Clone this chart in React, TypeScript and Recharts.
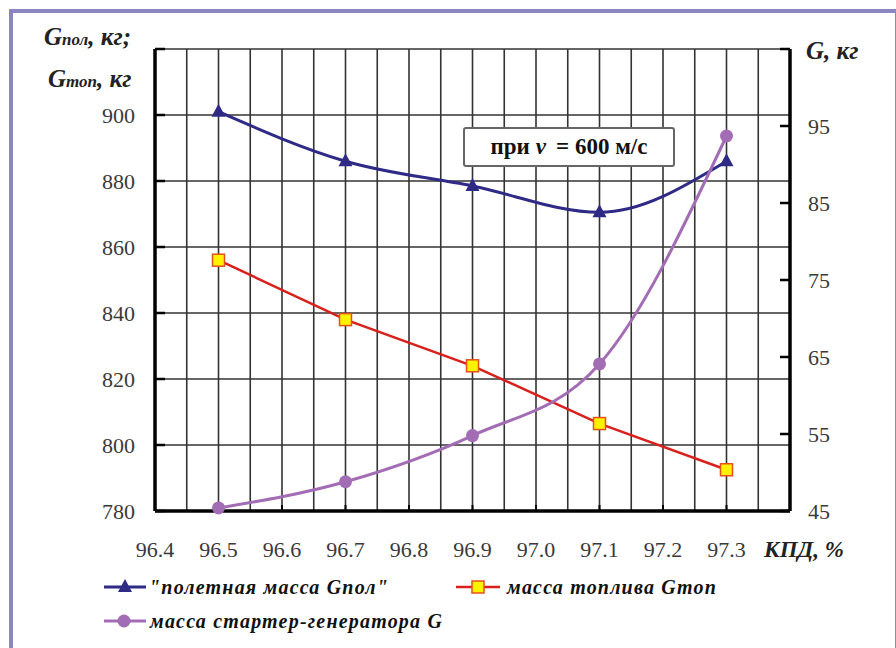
import React from 'react'
import { CartesianGrid, Line, LineChart, XAxis, YAxis } from 'recharts'

// КПД, %
const kpd = [96.5, 96.7, 96.9, 97.1, 97.3]
// "полетная масса Gпол", кг
const gPol = [901, 886, 878.5, 870.5, 886]
// масса топлива Gтоп, кг
const gTop = [856, 838, 824, 806.5, 792.5]
// масса стартер-генератора G, кг
const gSg = [45.4, 48.8, 54.8, 64.1, 93.7]

const xTicks = [96.4, 96.5, 96.6, 96.7, 96.8, 96.9, 97.0, 97.1, 97.2, 97.3, 97.4]
const xGrid = [
  96.4, 96.45, 96.5, 96.55, 96.6, 96.65, 96.7, 96.75, 96.8, 96.85, 96.9,
  96.95, 97.0, 97.05, 97.1, 97.15, 97.2, 97.25, 97.3, 97.35, 97.4,
]
const leftTicks = [780, 800, 820, 840, 860, 880, 900, 920]
const rightTicks = [45, 55, 65, 75, 85, 95, 105]

const data = kpd.map((k, i) => ({ kpd: k, gPol: gPol[i], gTop: gTop[i], gSg: gSg[i] }))

const serif = "'Liberation Serif', 'DejaVu Serif', serif"
const navy = '#2f2a86'
const red = '#d8201c'
const violet = '#a36db5'

const Triangle = (props: any) => {
  const { cx, cy } = props
  if (cx == null || cy == null) return null
  return <polygon key={props.key} points={`${cx},${cy - 8} ${cx - 7},${cy + 5} ${cx + 7},${cy + 5}`} fill={navy} />
}

const Square = (props: any) => {
  const { cx, cy } = props
  if (cx == null || cy == null) return null
  return <rect key={props.key} x={cx - 6} y={cy - 6} width={12} height={12} fill="#fff200" stroke="#e5501a" strokeWidth={1.5} />
}

const Circle = (props: any) => {
  const { cx, cy } = props
  if (cx == null || cy == null) return null
  return <circle key={props.key} cx={cx} cy={cy} r={6.5} fill={violet} />
}

const XTick = (props: any) => {
  const { x, y, payload } = props
  if (payload.value > 97.35) {
    return (
      <text x={x + 14} y={y} dy="0.71em" textAnchor="middle" style={{ fontFamily: serif }} fontSize={23}
        fontStyle="italic" fontWeight="bold" fill="#222">КПД, %</text>
    )
  }
  return (
    <text x={x} y={y} dy="0.71em" textAnchor="middle" style={{ fontFamily: serif }} fontSize={22} fill="#3a3a3a">
      {payload.value.toFixed(1)}
    </text>
  )
}

const tickStyle = { fill: '#3a3a3a', fontSize: 22, style: { fontFamily: serif } }

const titleStyle: React.CSSProperties = {
  position: 'absolute', fontFamily: serif, fontStyle: 'italic', fontWeight: 'bold',
  fontSize: 25, color: '#222', whiteSpace: 'nowrap', lineHeight: 1,
}
const legendText: React.CSSProperties = {
  position: 'absolute', fontFamily: serif, fontStyle: 'italic', fontWeight: 'bold',
  fontSize: 20, letterSpacing: 1.2, color: '#111', whiteSpace: 'nowrap', lineHeight: 1,
}

export default function App() {
  return (
    <div style={{ position: 'absolute', left: 0, top: 0, width: 896, height: 648, background: '#fff', fontFamily: serif }}>
      <div style={{ position: 'absolute', left: 9, top: 9, width: 882, height: 660, border: '4px solid #8b85c1' }} />
      <LineChart width={896} height={648} data={data} margin={{ top: 49, right: 46, left: 95, bottom: 97 }}
        style={{ fontFamily: serif }}>
        <CartesianGrid yAxisId="left" stroke="#333" strokeWidth={1.6}
          verticalValues={xGrid} horizontalValues={leftTicks} />
        <XAxis dataKey="kpd" type="number" domain={[96.4, 97.4]} ticks={xTicks} height={40}
          axisLine={{ stroke: '#000', strokeWidth: 3.5 }} tickLine={{ stroke: '#000', strokeWidth: 2 }}
          tickSize={-6} tickMargin={36} tick={<XTick />} interval={0} />
        <YAxis yAxisId="left" domain={[780, 920]} ticks={leftTicks} width={60} interval={0}
          tickFormatter={(v: number) => (v === 920 ? '' : String(v))}
          axisLine={{ stroke: '#000', strokeWidth: 3.5 }} tickLine={{ stroke: '#000', strokeWidth: 2.5 }}
          tickSize={-10} tickMargin={30} tick={tickStyle} />
        <YAxis yAxisId="right" orientation="right" domain={[45, 105]} ticks={rightTicks} width={60} interval={0}
          tickFormatter={(v: number) => (v === 105 ? '' : String(v))}
          axisLine={{ stroke: '#000', strokeWidth: 3.5 }} tickLine={{ stroke: '#000', strokeWidth: 2.5 }}
          tickSize={-10} tickMargin={28} tick={tickStyle} />
        <Line yAxisId="left" type="monotone" dataKey="gPol" stroke={navy} strokeWidth={3}
          dot={<Triangle />} activeDot={false} isAnimationActive={false} />
        <Line yAxisId="left" type="linear" dataKey="gTop" stroke={red} strokeWidth={2.5}
          dot={<Square />} activeDot={false} isAnimationActive={false} />
        <Line yAxisId="right" type="monotone" dataKey="gSg" stroke={violet} strokeWidth={3}
          dot={<Circle />} activeDot={false} isAnimationActive={false} />
      </LineChart>

      <div style={{ ...titleStyle, left: 44, top: 24 }}>
        G<span style={{ fontSize: 17 }}>пол</span>, кг;
      </div>
      <div style={{ ...titleStyle, left: 48, top: 66 }}>
        G<span style={{ fontSize: 17 }}>топ</span>, кг
      </div>
      <div style={{ ...titleStyle, left: 806, top: 38 }}>G, кг</div>

      <div style={{
        position: 'absolute', left: 463, top: 127, width: 208, height: 36, background: '#fff',
        border: '2px solid #666', borderRadius: 3, display: 'flex', alignItems: 'center',
        justifyContent: 'center', fontFamily: serif, fontWeight: 'bold', fontSize: 23, color: '#111',
      }}>
        при <i style={{ margin: '0 10px 0 6px' }}>v</i> = 600 м/с
      </div>

      <svg style={{ position: 'absolute', left: 0, top: 0 }} width={896} height={648}>
        <line x1={104} y1={587} x2={146} y2={587} stroke={navy} strokeWidth={3} />
        <polygon points="125,579 118,592 132,592" fill={navy} />
        <line x1={456} y1={587} x2={500} y2={587} stroke={red} strokeWidth={2.5} />
        <rect x={472} y={581} width={12} height={12} fill="#fff200" stroke="#e5501a" strokeWidth={1.5} />
        <line x1={104} y1={621} x2={146} y2={621} stroke={violet} strokeWidth={3} />
        <circle cx={124} cy={621} r={6.5} fill={violet} />
      </svg>
      <div style={{ ...legendText, left: 149, top: 577 }}>"полетная масса Gпол"</div>
      <div style={{ ...legendText, left: 507, top: 577 }}>масса топлива Gтоп</div>
      <div style={{ ...legendText, left: 150, top: 611 }}>масса стартер-генератора G</div>
    </div>
  )
}
